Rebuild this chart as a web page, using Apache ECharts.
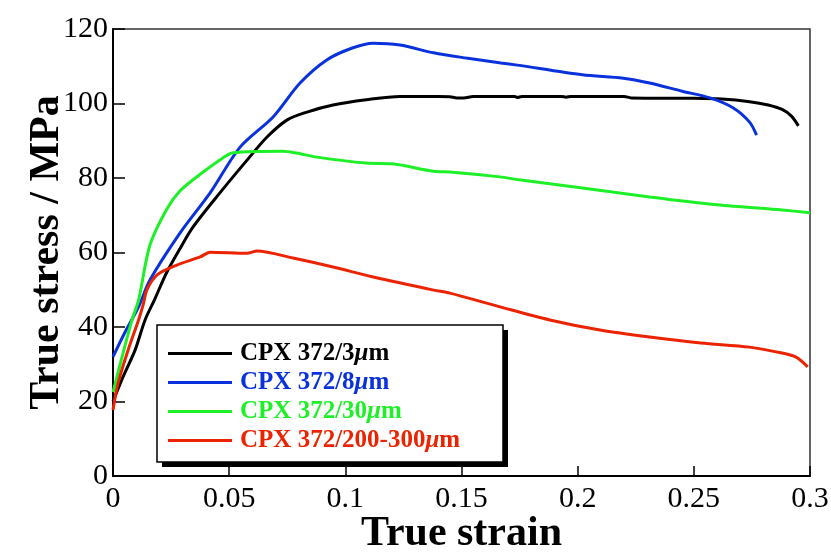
<!DOCTYPE html>
<html>
<head>
<meta charset="utf-8">
<script src="https://cdn.jsdelivr.net/npm/echarts@6/dist/echarts.min.js"></script>
<style>html,body{margin:0;padding:0;background:#fff}#c{width:831px;height:554px}</style>
</head>
<body>
<div id="c"></div>
<script>
var seriesNames = ['CPX 372/3μm', 'CPX 372/8μm', 'CPX 372/30μm', 'CPX 372/200-300μm'];
var xTicks = [0, 0.05, 0.1, 0.15, 0.2, 0.25, 0.3];
var yTicks = [0, 20, 40, 60, 80, 100, 120];

var strain3 = [0, 0.0043, 0.0095, 0.0138, 0.018, 0.023, 0.0288, 0.0344, 0.046, 0.0577, 0.0663, 0.075, 0.0835, 0.0947, 0.109, 0.1235, 0.14, 0.145, 0.148, 0.151, 0.155, 0.173, 0.174, 0.176, 0.193, 0.195, 0.197, 0.22, 0.223, 0.25, 0.262, 0.274, 0.282, 0.288, 0.292, 0.295];
var stress3 = [20, 26.6, 33.8, 41.9, 47.5, 54.5, 61, 66.8, 76, 84.8, 91, 95.6, 97.7, 99.6, 101, 101.9, 101.9, 101.8, 101.5, 101.5, 101.9, 101.9, 101.6, 101.9, 101.9, 101.7, 101.9, 101.9, 101.5, 101.4, 101.2, 100.5, 99.6, 98.4, 96.6, 94];

var strain8 = [0, 0.005, 0.011, 0.0159, 0.0288, 0.0418, 0.0547, 0.0689, 0.0805, 0.092, 0.103, 0.112, 0.1235, 0.138, 0.152, 0.167, 0.174, 0.202, 0.2196, 0.231, 0.245, 0.257, 0.267, 0.274, 0.277];
var stress8 = [32, 38.4, 45.4, 52.6, 65.2, 76, 88.3, 96.4, 105.5, 111.7, 114.9, 116.2, 115.7, 113.6, 112.2, 110.9, 110.3, 107.7, 106.8, 105.5, 103.3, 101.5, 98.8, 95, 91.5];

var strain30 = [0, 0.0039, 0.0082, 0.011, 0.0159, 0.023, 0.0288, 0.0375, 0.0473, 0.0517, 0.073, 0.079, 0.0878, 0.109, 0.12, 0.138, 0.145, 0.1666, 0.174, 0.202, 0.231, 0.26, 0.288, 0.3];
var stress30 = [22.5, 32, 41.9, 47.2, 62, 71.5, 76.5, 81, 85.4, 86.8, 87.2, 86.7, 85.6, 84, 83.8, 81.8, 81.6, 80.3, 79.6, 77.3, 74.9, 72.8, 71.4, 70.7];

var strain200 = [0, 0.0022, 0.0065, 0.011, 0.013, 0.0146, 0.019, 0.0275, 0.0375, 0.0418, 0.0577, 0.062, 0.0775, 0.0947, 0.112, 0.138, 0.145, 0.1666, 0.188, 0.2096, 0.231, 0.253, 0.274, 0.288, 0.294, 0.299];
var stress200 = [17.7, 25, 33.8, 41.9, 46, 50, 54, 56.6, 58.8, 60.1, 59.8, 60.4, 58.5, 56.1, 53.4, 49.9, 49.1, 45.4, 41.9, 39.2, 37.3, 35.7, 34.6, 33, 31.9, 29.3];

var colors = ['#000000', '#0a32dc', '#1ef028', '#eb2300'];

function zip(xs, ys) { return xs.map(function (x, i) { return [x, ys[i]]; }); }
var allData = [zip(strain3, stress3), zip(strain8, stress8), zip(strain30, stress30), zip(strain200, stress200)];

var serif = '"Liberation Serif", "DejaVu Serif", serif';
var chart = echarts.init(document.getElementById('c'), null, {renderer: 'canvas'});
function richFor(c) {
  return {i: {color: c, fontStyle: 'italic', fontWeight: 'bold', fontFamily: serif, fontSize: 25, lineHeight: 25}};
}
chart.setOption({
  animation: false,
  backgroundColor: '#fff',
  grid: {left: 113, right: 21, top: 29, bottom: 78, outerBoundsMode: 'none', containLabel: false,
    show: true, borderColor: '#333', borderWidth: 1.5, backgroundColor: 'transparent'},
  graphic: [
    {type: 'rect', z: 1, shape: {x: 162, y: 330, width: 346, height: 137}, style: {fill: '#000'}, silent: true},
    {type: 'rect', z: 2, shape: {x: 157, y: 325, width: 346, height: 137}, style: {fill: '#fff', stroke: '#000', lineWidth: 1.5}, silent: true}
  ],
  xAxis: {
    type: 'value', min: xTicks[0], max: xTicks[xTicks.length - 1], interval: 0.05,
    name: 'True strain', nameLocation: 'middle', nameGap: 37, nameMoveOverlap: false,
    nameTextStyle: {fontFamily: serif, fontWeight: 'bold', fontSize: 42, color: '#000'},
    axisLine: {lineStyle: {color: '#000', width: 2}},
    axisTick: {inside: true, length: 10, lineStyle: {color: '#000', width: 1.5}},
    axisLabel: {fontFamily: serif, fontSize: 30, color: '#000', margin: 8},
    splitLine: {show: false}
  },
  yAxis: {
    type: 'value', min: yTicks[0], max: yTicks[yTicks.length - 1], interval: 20,
    name: 'True stress / MPa', nameLocation: 'middle', nameGap: 45, nameMoveOverlap: false,
    nameTextStyle: {fontFamily: serif, fontWeight: 'bold', fontSize: 42, color: '#000'},
    axisLine: {show: true, lineStyle: {color: '#000', width: 2}},
    axisTick: {show: true, inside: true, length: 12, lineStyle: {color: '#000', width: 1.5}},
    axisLabel: {fontFamily: serif, fontSize: 30, color: '#000', margin: 5, padding: [0, 0, 14, 0]},
    splitLine: {show: false}
  },
  legend: {
    z: 5,
    orient: 'vertical', left: 157, top: 325,
    padding: [16, 36, 14, 11],
    itemWidth: 64, itemHeight: 3, itemGap: 4,
    icon: 'rect',
    formatter: function (n) { return n.replace('μ', '{i|μ}'); },
    textStyle: {fontFamily: serif, fontWeight: 'bold', fontSize: 25, lineHeight: 25, padding: [0, 0, 0, 3], rich: richFor('#000')},
    data: seriesNames.map(function (n, i) {
      return {name: n, itemStyle: {color: colors[i]}, textStyle: {color: colors[i], rich: richFor(colors[i])}};
    })
  },
  series: seriesNames.map(function (n, i) {
    return {name: n, type: 'line', data: allData[i], showSymbol: false, symbol: 'none',
      smooth: 0.3, lineStyle: {color: colors[i], width: 3}, itemStyle: {color: colors[i]}};
  })
});
</script>
</body>
</html>
